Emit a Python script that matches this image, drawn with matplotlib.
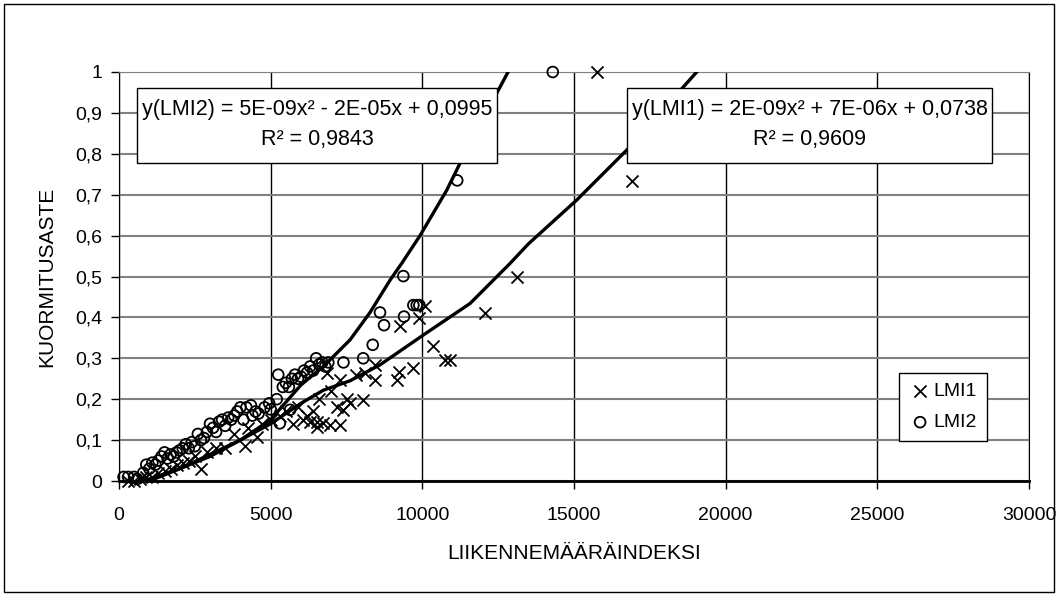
"""KUORMITUSASTE vs LIIKENNEMÄÄRÄINDEKSI scatter with quadratic trend curves."""
import matplotlib
matplotlib.use("Agg")
import matplotlib.pyplot as plt
from matplotlib.patches import Rectangle

plt.rcParams["font.family"] = ["Liberation Sans", "DejaVu Sans"]

# LMI1 observations (crosses)
lmi1_x = [300, 500, 700, 900, 1100, 1300, 1500, 1700, 1900, 2100, 2300, 2500,
          2700, 2900, 3200, 3500, 3800, 4150, 4250, 4540, 4700, 5000, 5300,
          5500, 5750, 5900, 6080, 6200, 6300, 6400, 6520, 6520, 6600, 6740,
          6850, 6960, 7000, 7180, 7290, 7290, 7400, 7500, 7620, 7800, 8060,
          8110, 8440, 8440, 9155, 9242, 9264, 9704, 9902, 10089, 10363, 10748,
          10913, 12067, 13112, 15760, 16914]
lmi1_y = [0.0, 0.0, 0.005, 0.01, 0.01, 0.02, 0.025, 0.03, 0.04, 0.045, 0.05,
          0.06, 0.03, 0.07, 0.08, 0.08, 0.115, 0.085, 0.13, 0.108, 0.14, 0.15,
          0.16, 0.17, 0.14, 0.18, 0.149, 0.16, 0.145, 0.17, 0.133, 0.145, 0.2,
          0.141, 0.263, 0.137, 0.22, 0.182, 0.137, 0.247, 0.174, 0.2, 0.19,
          0.26, 0.198, 0.263, 0.247, 0.284, 0.247, 0.267, 0.379, 0.277, 0.398,
          0.428, 0.33, 0.296, 0.296, 0.41, 0.498, 1.0, 0.733]

# LMI2 observations (circles)
lmi2_x = [150, 300, 500, 600, 800, 900, 1000, 1100, 1200, 1300, 1400, 1500,
          1600, 1700, 1800, 1900, 2000, 2100, 2200, 2300, 2400, 2500, 2600,
          2700, 2800, 2900, 3000, 3100, 3200, 3300, 3400, 3500, 3600, 3700,
          3800, 3900, 4000, 4100, 4200, 4350, 4400, 4500, 4600, 4800, 4950,
          5000, 5200, 5250, 5300, 5400, 5500, 5600, 5640, 5700, 5800, 5900,
          6000, 6100, 6200, 6300, 6400, 6500, 6600, 6700, 6800, 6900, 7400,
          8050, 8364, 8605, 8737, 9374, 9396, 9704, 9814, 9902, 11150, 14300]
lmi2_y = [0.01, 0.01, 0.01, 0.005, 0.02, 0.04, 0.03, 0.045, 0.04, 0.05, 0.06,
          0.07, 0.055, 0.065, 0.06, 0.07, 0.075, 0.08, 0.09, 0.08, 0.095,
          0.085, 0.115, 0.1, 0.105, 0.12, 0.14, 0.13, 0.12, 0.145, 0.15, 0.135,
          0.155, 0.15, 0.16, 0.17, 0.18, 0.15, 0.18, 0.185, 0.16, 0.17, 0.165,
          0.18, 0.19, 0.175, 0.2, 0.26, 0.141, 0.23, 0.24, 0.23, 0.174, 0.25,
          0.26, 0.25, 0.255, 0.27, 0.265, 0.28, 0.27, 0.3, 0.285, 0.29, 0.28,
          0.29, 0.29, 0.3, 0.333, 0.412, 0.381, 0.501, 0.402, 0.43, 0.43, 0.43,
          0.735, 1.0]

# trend curves
fit1_x = [1000, 2000, 3000, 4000, 5000, 6000, 6737, 7616, 8605, 10034, 11573,
          12892, 13500, 15090, 16738, 19046, 19500]
fit1_y = [0.0, 0.03, 0.06, 0.1, 0.14, 0.19, 0.222, 0.245, 0.284, 0.357, 0.434,
          0.532, 0.58, 0.687, 0.809, 1.0, 1.04]
fit2_x = [800, 2000, 3000, 4000, 5000, 6000, 6737, 7616, 8275, 8935, 9319,
          9924, 10804, 11243, 12452, 12826, 13100]
fit2_y = [0.0, 0.03, 0.065, 0.1, 0.15, 0.235, 0.28, 0.345, 0.412, 0.491, 0.532,
          0.6, 0.711, 0.777, 0.948, 1.0, 1.04]

eq1 = ["y(LMI1) = 2E-09x² + 7E-06x + 0,0738", "R² = 0,9609"]
eq2 = ["y(LMI2) = 5E-09x² - 2E-05x + 0,0995", "R² = 0,9843"]

W, H = 1058, 596
fig = plt.figure(figsize=(W / 100, H / 100), dpi=100)
ax = fig.add_axes([119 / W, 1 - 481 / H, 910 / W, 409 / H])

fs = 14
ax.plot(fit1_x, fit1_y, color="black", lw=2.4, zorder=3)
ax.plot(fit2_x, fit2_y, color="black", lw=2.4, zorder=3)
ax.scatter(lmi1_x, lmi1_y, marker="x", s=75, color="black", linewidths=1.3,
           label="LMI1", zorder=4, clip_on=False)
ax.scatter(lmi2_x, lmi2_y, marker="o", s=60, facecolors="none",
           edgecolors="black", linewidths=1.3, label="LMI2", zorder=4,
           clip_on=False)

ax.set_xlim(0, 30000)
ax.set_ylim(0, 1)
ax.set_xticks(range(0, 30001, 5000))
ax.set_yticks([i / 10 for i in range(11)])
ax.set_yticklabels(["0"] + [f"0,{i}" for i in range(1, 10)] + ["1"])
ax.tick_params(direction="out", length=6, width=1, labelsize=fs,
               colors="black", pad=6)
ax.tick_params(axis="x", pad=13)
ax.xaxis.grid(True, color="black", lw=1)
ax.yaxis.grid(True, color="#808080", lw=1.5)
ax.set_axisbelow(True)
for side in ["left", "right"]:
    ax.spines[side].set_color("black")
ax.spines["top"].set_color("#808080")
ax.spines["bottom"].set_linewidth(2)
ax.set_xlabel("LIIKENNEMÄÄRÄINDEKSI", fontsize=fs + 1, labelpad=14)
ax.set_ylabel("KUORMITUSASTE", fontsize=fs + 1, labelpad=14)

leg = ax.legend(loc="upper left", bbox_to_anchor=(889 / W, 1 - 363 / H),
                bbox_transform=fig.transFigure, frameon=True, fancybox=False,
                edgecolor="black", fontsize=fs, handletextpad=0.1,
                labelspacing=0.7, borderpad=0.5, handlelength=1.2,
                framealpha=1)
leg.get_frame().set_linewidth(1)

# equation boxes
for (x0, x1), lines in [((137, 497), eq2), ((627, 992), eq1)]:
    fig.add_artist(Rectangle((x0 / W, 1 - 163 / H), (x1 - x0) / W, 75 / H,
                             transform=fig.transFigure, facecolor="white",
                             edgecolor="black", lw=1, zorder=5))
    xc = (x0 + x1) / 2 / W
    fig.text(xc, 1 - 110 / H, lines[0], ha="center", va="center",
             fontsize=15.5, zorder=6)
    fig.text(xc, 1 - 139 / H, lines[1], ha="center", va="center",
             fontsize=15.5, zorder=6)

fig.add_artist(Rectangle((4 / W, 4 / H), (W - 8) / W, (H - 8) / H,
                         transform=fig.transFigure, facecolor="none",
                         edgecolor="black", lw=1))

fig.savefig("out.png", dpi=100)
